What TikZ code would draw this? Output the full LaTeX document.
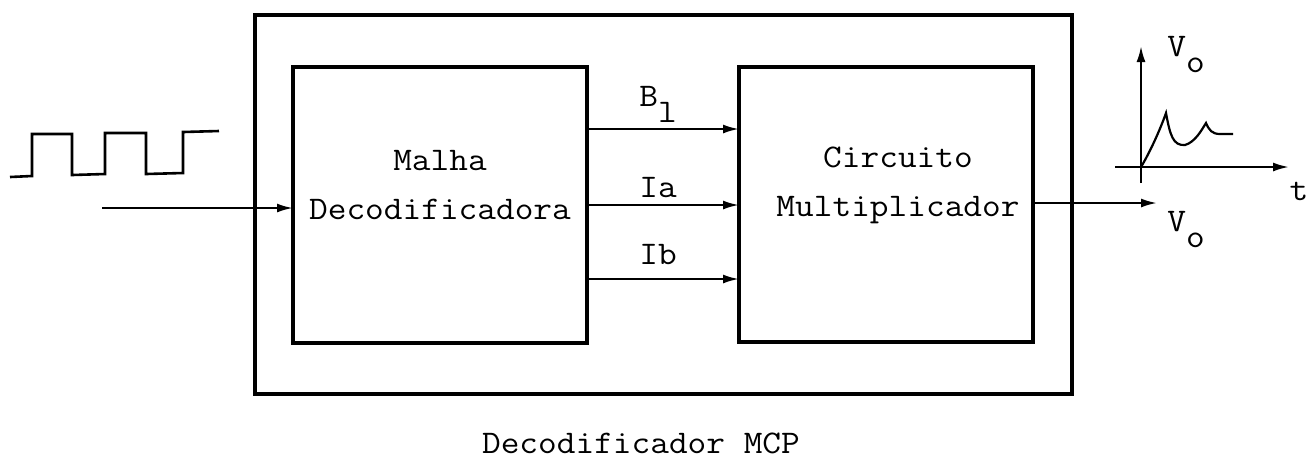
\documentclass[tikz,border=0pt]{standalone}
\usepackage{fontspec}
\setmonofont[FakeStretch=1.1]{Latin Modern Mono}
\usetikzlibrary{arrows.meta}
\begin{document}
\begin{tikzpicture}[x=0.5pt,y=-0.5pt,
  font=\ttfamily\fontsize{16.5}{24.5}\selectfont,
  frame/.style={draw, line width=1.6pt, inner sep=0pt, outer sep=0pt},
  sig/.style={line width=1.1pt, -{Latex[length=8pt,width=4.5pt]}},
  trace/.style={line width=1.3pt, line join=miter},
  lbl/.style={inner sep=0pt, align=center}]
\useasboundingbox (0,0) rectangle (1310,463);

% enclosing decoder frame and the two functional blocks
\node[frame, minimum width=408.5pt, minimum height=189.5pt] (outer) at (663.5,204.5) {};
\node[frame, minimum width=147pt, minimum height=138pt] (mesh) at (440,205) {};
\node[frame, minimum width=147pt, minimum height=137.5pt] (mult) at (886,204.5) {};

\node[lbl] (meshtxt) at (440,185.5) {Malha\\Decodificadora};
\node[lbl] (multtxt) at (898,185.5) {Circuito\\Multiplicador};

% signals between the blocks
\draw[sig] (mesh.east |- 0,129) -- (mult.west |- 0,129);
\draw[sig] (mesh.east |- 0,205) -- (mult.west |- 0,205);
\draw[sig] (mesh.east |- 0,279) -- (mult.west |- 0,279);
\node[lbl] (lb1) at (658,104) {B\raisebox{-8pt}{l}};
\node[lbl] (lia) at (658,188) {Ia};
\node[lbl] (lib) at (658,255) {Ib};

% input pulse train
\coordinate (in) at (102,208);
\draw[sig] (in) -- (mesh.west |- in);
\draw[trace] (10,177) -- (32,176) -- (32,134) -- (72,134) -- (72,175)
  -- (105,174) -- (105,133) -- (146,133) -- (146,174) -- (183,173)
  -- (183,132) -- (219,131);

% output
\coordinate (out) at (1157,203);
\draw[sig] (mult.east |- out) -- (out);
\node[lbl] (vout) at (1186,230) {V\raisebox{-8pt}{o}};

% output waveform sketch
\coordinate (O) at (1141,167);
\coordinate (ytop) at (1141,46);
\coordinate (ybot) at (1141,183);
\coordinate (xl) at (1115,167);
\coordinate (xr) at (1289,167);
\draw[sig] (ybot) -- (ytop);
\draw[sig] (xl) -- (xr);
\node[lbl] (vaxis) at (1186,55) {V\raisebox{-8pt}{o}};
\node[lbl] (taxis) at (1299,191) {t};
\draw[line width=1.1pt] (O) .. controls (1150,152) and (1160,130) .. (1166,113)
  .. controls (1170,135) and (1173,146) .. (1185,145)
  .. controls (1195,142) and (1201,131) .. (1206,123)
  .. controls (1209,130) and (1212,134) .. (1220,134) -- (1233,134);

% caption
\node[lbl] (cap) at (641,443) {Decodificador MCP};
\end{tikzpicture}
\end{document}
